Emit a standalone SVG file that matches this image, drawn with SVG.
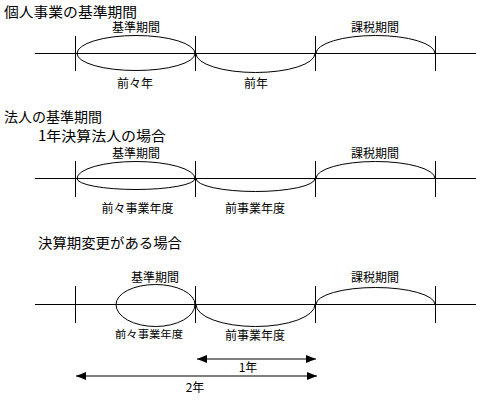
<svg xmlns="http://www.w3.org/2000/svg" width="482" height="401" viewBox="0 0 482 401">
<style>
.t{font-family:"Noto Sans CJK JP","Noto Sans CJK SC",sans-serif;fill:#000}
.h{font-size:14px}
.l{font-size:12px}
.s{font-size:10.5px}
.ln{stroke:#000;stroke-width:1;fill:none}
.a{stroke:#000;stroke-width:1;fill:none}
.ar{stroke:#000;stroke-width:1.2;fill:none;marker-start:url(#ah);marker-end:url(#ah)}
</style>
<defs>
<marker id="ah" viewBox="0 0 10 8" refX="10" refY="4" markerWidth="10" markerHeight="8" markerUnits="userSpaceOnUse" orient="auto-start-reverse">
<path d="M0,0 L10,4 L0,8 Z" fill="#000"/>
</marker>
</defs>
<rect width="482" height="401" fill="#fff"/>

<g id="sec1">
<text class="t h" x="4" y="17" textLength="133" lengthAdjust="spacingAndGlyphs">個人事業の基準期間</text>
<g id="s1-timeline">
<line class="ln" x1="35" y1="53.5" x2="476" y2="53.5"/>
<line class="ln" x1="75.5" y1="36" x2="75.5" y2="71"/>
<line class="ln" x1="195.5" y1="36" x2="195.5" y2="71"/>
<line class="ln" x1="315.5" y1="36" x2="315.5" y2="71"/>
<line class="ln" x1="435.5" y1="36" x2="435.5" y2="71"/>
</g>
<g id="s1-base">
<path class="a" d="M77,53.5 A59,18 0 0 1 195,53.5 A59,17 0 0 1 77,53.5 Z"/>
<text class="t l" x="136" y="32" text-anchor="middle">基準期間</text>
<text class="t l" x="135" y="88" text-anchor="middle">前々年</text>
</g>
<g id="s1-prev">
<path class="a" d="M196,53.5 A59.5,19 0 0 0 315,53.5"/>
<text class="t l" x="256" y="88" text-anchor="middle">前年</text>
</g>
<g id="s1-tax">
<path class="a" d="M316,53.5 A59.5,18 0 0 1 435,53.5"/>
<text class="t l" x="375" y="32" text-anchor="middle">課税期間</text>
</g>
</g>

<g id="sec2">
<text class="t h" x="4" y="122" textLength="98" lengthAdjust="spacingAndGlyphs">法人の基準期間</text>
<text class="t h" x="38" y="141" textLength="128" lengthAdjust="spacingAndGlyphs">1年決算法人の場合</text>
<g id="s2-timeline">
<line class="ln" x1="35" y1="178.5" x2="476" y2="178.5"/>
<line class="ln" x1="75.5" y1="161" x2="75.5" y2="197"/>
<line class="ln" x1="195.5" y1="161" x2="195.5" y2="197"/>
<line class="ln" x1="315.5" y1="161" x2="315.5" y2="197"/>
<line class="ln" x1="435.5" y1="161" x2="435.5" y2="197"/>
</g>
<g id="s2-base">
<path class="a" d="M77,178.5 A59,17 0 0 1 195,178.5 A59,11 0 0 1 77,178.5 Z"/>
<text class="t l" x="136" y="158" text-anchor="middle">基準期間</text>
<text class="t l" x="137.5" y="213" text-anchor="middle">前々事業年度</text>
</g>
<g id="s2-prev">
<path class="a" d="M196,178.5 A59.5,13 0 0 0 315,178.5"/>
<text class="t l" x="255" y="213" text-anchor="middle">前事業年度</text>
</g>
<g id="s2-tax">
<path class="a" d="M316,178.5 A59.5,17 0 0 1 435,178.5"/>
<text class="t l" x="375" y="158" text-anchor="middle">課税期間</text>
</g>
</g>

<g id="sec3">
<text class="t h" x="38" y="248" textLength="144" lengthAdjust="spacingAndGlyphs">決算期変更がある場合</text>
<g id="s3-timeline">
<line class="ln" x1="35" y1="304.5" x2="476" y2="304.5"/>
<line class="ln" x1="75.5" y1="286" x2="75.5" y2="323"/>
<line class="ln" x1="195.5" y1="286" x2="195.5" y2="323"/>
<line class="ln" x1="315.5" y1="286" x2="315.5" y2="323"/>
<line class="ln" x1="435.5" y1="286" x2="435.5" y2="323"/>
</g>
<g id="s3-base">
<path class="a" d="M116,304.5 A39.5,20 0 0 1 195,304.5 A39.5,22 0 0 1 116,304.5 Z"/>
<text class="t l" x="155" y="282" text-anchor="middle">基準期間</text>
<text class="t s" x="115" y="338" textLength="68" lengthAdjust="spacingAndGlyphs">前々事業年度</text>
</g>
<g id="s3-prev">
<path class="a" d="M196,304.5 A59.5,22 0 0 0 315,304.5"/>
<text class="t l" x="255" y="340" text-anchor="middle">前事業年度</text>
</g>
<g id="s3-tax">
<path class="a" d="M316,304.5 A59.5,17 0 0 1 435,304.5"/>
<text class="t l" x="375" y="282" text-anchor="middle">課税期間</text>
</g>
</g>

<g id="connectors">
<line class="ar" x1="197" y1="359" x2="316" y2="359"/>
<line class="ar" x1="76" y1="376" x2="317" y2="376"/>
</g>
<g id="span1">
<text class="t l" x="248" y="372" text-anchor="middle">1年</text>
</g>
<g id="span2">
<text class="t l" x="195" y="392" text-anchor="middle">2年</text>
</g>
</svg>
